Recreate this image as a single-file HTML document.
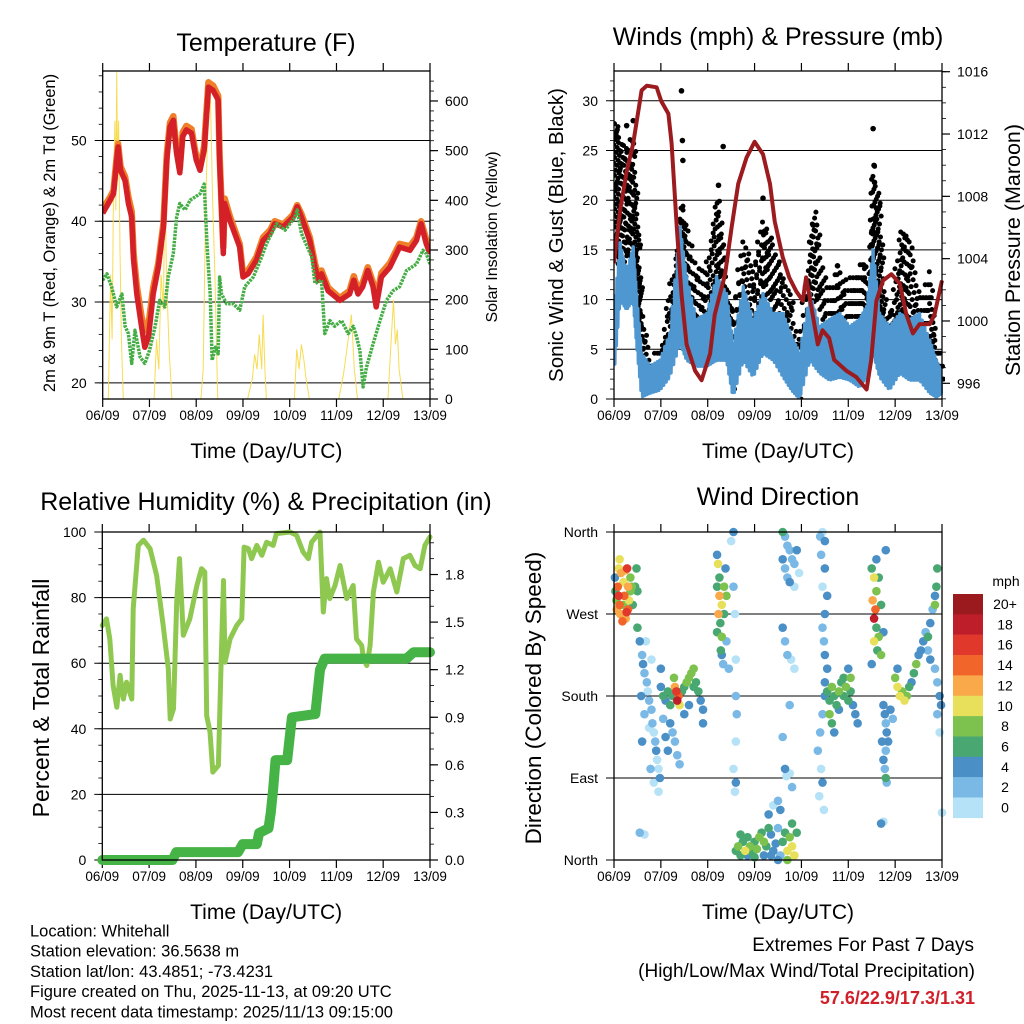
<!DOCTYPE html>
<html><head><meta charset="utf-8">
<style>
html,body{margin:0;padding:0;background:#fff;}
svg{display:block;font-family:"Liberation Sans",Arial,sans-serif;}
</style></head>
<body>
<svg id="chart" width="1024" height="1024" viewBox="0 0 1024 1024" xmlns="http://www.w3.org/2000/svg">
<rect x="0" y="0" width="1024" height="1024" fill="#fff"/>
</svg>
<script>
// ---------- Temperature panel data (days since 06/09) ----------
const tempT=[0,.16,.23,.3,.33,.38,.48,.55,.62,.66,.73,.83,.9,.98,1.08,1.19,1.3,1.37,1.44,1.51,1.58,1.65,1.71,1.79,1.9,2.0,2.08,2.17,2.26,2.36,2.47,2.5,2.58,2.61,2.72,2.93,3.0,3.11,3.29,3.43,3.58,3.68,3.86,4.07,4.16,4.25,4.43,4.54,4.61,4.68,4.82,5.07,5.28,5.37,5.46,5.56,5.67,5.78,5.85,5.96,6.14,6.35,6.57,6.71,6.81,6.92,7.0];
const tempRed=[41,42.6,43.4,47.5,49.2,46.3,45,42.2,40.5,35.2,31,27,24.4,25.7,31,34.3,39.3,47.6,51.7,52.5,48.4,46,50.5,51.3,50.9,47.6,46.3,48.8,56.6,56.2,55,47.6,36,42.2,40.1,36.8,33.1,33.5,35.2,37.6,38.5,39.7,39.3,40.5,41.8,40.5,37.6,34.3,32.7,33.5,31.4,30.2,31,32.7,31,31.9,33.9,31.9,29.4,33.1,34.3,36.8,36.4,37.6,39.7,37.2,36];
const tempOrange=[41.5,43,43.8,48,49.6,46.8,45.5,43,41.2,36,32,28.2,26.5,27.2,31.8,34.8,39.8,48.3,52.2,53,48.9,46.5,51,51.8,51.4,48,46.8,49.3,57.2,56.8,55.5,48.2,36.8,42.8,40.6,37.2,33.5,33.9,35.6,38,38.9,40,39.6,40.8,42,40.9,38,34.8,33.2,33.9,31.8,30.5,31.4,33.2,31.5,32.4,34.3,32.4,30.2,33.6,34.8,37.2,36.9,38,40,37.7,36.5];
const dewT=[0,.09,.19,.3,.41,.48,.55,.62,.69,.8,.9,1.0,1.12,1.22,1.33,1.4,1.51,1.58,1.65,1.76,1.87,2.08,2.17,2.23,2.26,2.3,2.34,2.41,2.47,2.5,2.54,2.65,2.79,2.93,3.04,3.22,3.4,3.5,3.72,3.9,4.11,4.16,4.25,4.47,4.54,4.68,4.75,4.86,4.96,5.11,5.25,5.36,5.43,5.5,5.57,5.64,5.78,5.93,6.07,6.21,6.35,6.5,6.71,6.85,6.92,7.0];
const dewV=[32.7,33.5,31.9,29.4,31,27,26.1,22.4,26.5,23.2,22.4,24,27,30.2,29.4,33.1,36,40.5,42.2,41.4,42.6,43.4,44.6,37.2,34.3,31,22.8,24.4,23.6,33.1,31,29.8,29.8,29,31.9,33.1,35.6,37.2,39.7,38.9,40.5,41.4,38.5,35.6,32.3,32.7,26.1,27.7,27,27.7,26.1,27,25.7,24,19.5,21.9,24.8,27.7,30.2,31.4,31.9,33.9,34.7,36.4,36,34.7];
const solarT=[0,.12,.17,.2,.23,.26,.28,.3,.32,.34,.37,.4,.44,1.1,1.15,1.2,1.25,1.3,1.33,1.36,1.42,1.48,2.1,2.15,2.2,2.25,2.3,2.35,2.4,2.46,3.1,3.2,3.25,3.3,3.35,3.4,3.43,3.47,3.5,4.1,4.15,4.2,4.25,4.3,4.35,4.42,5.05,5.15,5.25,5.32,5.38,5.45,6.1,6.17,6.22,6.26,6.3,6.34,6.42,7];
const solarV=[0,0,250,120,420,560,380,658,440,560,300,120,0,0,120,60,250,180,490,260,100,0,0,60,380,560,630,400,250,0,0,40,90,60,130,60,170,60,0,0,100,60,110,80,40,0,0,50,120,170,60,0,0,120,200,110,140,60,0,0];
const tempTicks=[20,30,40,50];
const solarTicks=[0,100,200,300,400,500,600];
const dayLabels=['06/09','07/09','08/09','09/09','10/09','11/09','12/09','13/09'];

// ---------- Winds panel data ----------
const presT=[0,.13,.27,.41,.59,.7,.91,1.01,1.16,1.23,1.34,1.44,1.55,1.73,1.87,2.05,2.15,2.37,2.51,2.65,2.83,3.0,3.18,3.33,3.43,3.6,3.74,3.89,4.03,4.1,4.24,4.35,4.45,4.59,4.7,4.96,5.17,5.39,5.49,5.6,5.74,5.92,6.1,6.24,6.38,6.52,6.74,6.84,7.0];
const presV=[1003.7,1007.1,1009.6,1011.4,1014.8,1015.1,1015.0,1014.1,1013.3,1011.4,1006.0,1001.7,998.5,996.8,996.2,997.9,1000.4,1003.0,1006.0,1008.8,1010.5,1011.5,1010.7,1008.8,1006.4,1004.1,1002.8,1001.9,1001.3,1002.8,1000.4,998.5,999.4,998.9,997.5,996.8,996.4,995.6,997.5,1001.3,1002.6,1003.0,1002.4,1000.4,999.2,999.8,999.8,1000.4,1002.6];
const windT=[0,.13,.27,.41,.48,.59,.77,.98,1.19,1.41,1.55,1.76,1.98,2.19,2.4,2.54,2.76,2.97,3.18,3.4,3.61,3.79,3.96,4.18,4.39,4.6,4.82,5.03,5.24,5.39,5.53,5.67,5.88,6.1,6.31,6.52,6.74,6.88,7.0];
const windHi=[8.6,15.7,12.7,15.3,10.6,4.6,3.3,3.9,6.6,17.3,12.3,8,8.6,12.3,10.6,5.6,11.3,8,10.6,8.6,8.6,6.3,4.6,10.6,7.3,8,8.6,7.3,8,9.3,15,8.6,7.3,8.6,8,8.6,5.9,3.9,2.6];
const windLo=[2.6,10,9,10,5.6,0.2,0.6,0.9,2.2,5.6,3.9,3.3,3.3,3.9,3.9,0.2,3.9,2.2,4.6,3.9,2.2,0.9,0,3.9,2.6,1.9,2.2,1.9,1.2,2.2,4.6,2.2,0.9,2.6,1.9,1.9,0.6,0.2,0.6];
const gustT=[0,.13,.27,.41,.52,.59,.77,.98,1.19,1.34,1.44,1.55,1.76,1.98,2.19,2.33,2.54,2.76,2.97,3.18,3.33,3.54,3.75,3.96,4.18,4.32,4.53,4.75,4.96,5.18,5.32,5.46,5.53,5.67,5.81,5.96,6.13,6.31,6.52,6.74,6.88,7.0];
const gustLo=[16,12,15,14,10,5,2,2,6,8,9,8,7,6,8,9,1,8,5,10,11,6,4,0,8,11,6,6,7,7,7,6,13,8,4,5,9,8,5,5,2,2];
const gustHi=[28,27,25,27,17,10,4,5,11,15,20,18,13,14,21,16,9,16,13,18,17,14,11,6,16,19,11,13,12,13,14,12,24,20,9,10,18,17,10,13,6,4];
const gustOutT=[0.27,0.41,1.44,1.46,2.33,2.23,3.18,4.25,5.53,5.55,5.56,5.6,1.47,4.77];
const gustOutV=[27.5,28,31,26,25.4,21.5,20.2,17.5,27.2,23.5,21.8,19.2,24,13.4];
const windTicks=[0,5,10,15,20,25,30];
const presTicks=[996,1000,1004,1008,1012,1016];

// ---------- RH / precipitation data ----------
const rhT=[0,.09,.16,.23,.31,.38,.45,.52,.63,.66,.77,.88,1.02,1.16,1.3,1.41,1.45,1.52,1.59,1.65,1.73,1.87,2.02,2.12,2.19,2.23,2.3,2.36,2.48,2.54,2.59,2.62,2.73,2.87,2.98,3.03,3.12,3.19,3.3,3.41,3.51,3.65,3.72,4.01,4.15,4.29,4.4,4.47,4.65,4.72,4.79,4.86,4.97,5.08,5.22,5.36,5.43,5.54,5.58,5.65,5.72,5.79,5.9,6.0,6.15,6.29,6.43,6.57,6.68,6.79,6.89,7.0];
const rhV=[71.5,73.5,67.4,53.2,46.6,56.3,49.1,54.2,49.1,76.6,95.9,97.5,94.9,86.8,71.5,58.3,43,46.1,78.6,91.9,68.5,73.5,83.7,88.8,87.8,44,39,26.8,28.8,61.3,85.2,60.3,67.4,71.5,73.5,95.4,94.9,91.9,95.9,92.9,96.9,95.9,99.5,100,99,93.9,91.9,96.9,100,75.6,85.8,79.7,83.7,89.8,79.7,83.7,67.4,65.4,61.3,59.3,65.4,81.7,90.8,84.7,88.8,81.7,91.9,92.9,89.8,88.8,95.9,98.5];
const rainT=[0,1.5,1.58,2.9,3.0,3.3,3.35,3.55,3.6,3.65,3.7,3.95,4.05,4.55,4.65,4.75,6.5,6.65,7.0];
const rainV=[0,0,0.05,0.05,0.1,0.1,0.17,0.2,0.3,0.45,0.63,0.63,0.9,0.92,1.2,1.27,1.27,1.31,1.31];
const rhTicks=[0,20,40,60,80,100];
const rainTicks=[0,0.3,0.6,0.9,1.2,1.5,1.8];

// ---------- Wind direction data ----------
const dirT=[0.02,0.03,0.05,0.08,0.1,0.12,0.15,0.1,0.15,0.2,0.25,0.28,0.3,0.32,0.35,0.38,0.3,0.25,0.22,0.4,0.45,0.5,0.48,0.18,0.13,0.06,0.2,0.35,0.12,0.27,
0.5,0.55,0.6,0.62,0.65,0.7,0.72,0.75,0.8,0.82,0.85,0.88,0.9,0.92,0.95,0.68,0.8,0.58,0.65,0.75,0.78,0.98,0.6,0.55,0.65,0.85,0.95,
1.0,1.05,1.1,1.15,1.2,1.25,1.3,1.33,1.35,1.38,1.4,1.45,1.5,1.55,1.6,1.65,1.7,1.75,1.8,1.85,1.9,1.2,1.25,1.3,1.35,1.4,1.5,1.6,1.1,1.15,1.05,1.0,1.9,1.28,1.7,
2.2,2.22,2.25,2.2,2.25,2.3,2.23,2.27,2.2,2.3,2.35,2.38,2.4,2.35,2.28,2.3,2.33,2.4,2.45,
2.5,2.55,2.55,2.58,2.6,2.6,2.62,2.6,2.55,2.6,2.58,
2.6,2.65,2.7,2.75,2.8,2.85,2.9,2.95,3.0,3.05,3.1,3.15,3.2,3.25,3.3,3.35,3.4,3.45,3.5,3.55,3.6,3.65,3.7,3.75,3.8,3.85,3.9,2.7,2.85,3.0,3.2,3.35,3.5,3.7,3.8,3.3,3.4,3.5,3.55,
3.6,3.65,3.7,3.75,3.8,3.85,3.7,3.75,3.85,3.6,3.65,3.9,3.95,3.6,3.65,3.7,3.78,3.85,3.75,3.6,3.65,3.68,3.75,3.8,
4.4,4.45,4.5,4.42,4.5,4.45,4.55,4.5,4.45,4.48,4.5,4.55,4.5,4.45,4.4,4.35,4.42,4.45,4.38,4.48,
4.5,4.55,4.6,4.65,4.7,4.75,4.8,4.85,4.9,4.95,5.0,5.05,5.1,5.15,5.2,4.6,4.65,4.7,4.9,5.0,4.8,5.05,
5.5,5.55,5.6,5.52,5.58,5.55,5.6,5.65,5.55,5.62,5.7,5.5,5.65,5.6,5.7,5.75,5.8,
5.75,5.78,5.8,5.82,5.85,5.8,5.75,5.78,5.8,5.82,5.72,5.9,5.95,5.7,5.75,
6.0,6.05,6.1,6.15,6.2,6.25,6.3,6.35,6.4,6.45,6.5,6.55,6.05,
6.6,6.65,6.7,6.75,6.8,6.85,6.88,6.9,6.7,6.75,6.85,6.9,6.95,6.98,6.9,6.95,7.0,6.85];
const dirV=[310,295,285,300,290,280,270,320,315,305,318,320,300,285,295,300,275,265,290,280,300,295,320,262,270,275,280,310,330,272,
255,240,225,215,205,195,185,175,165,150,140,130,120,110,100,240,220,180,160,145,100,90,130,30,28,85,75,
190,180,175,185,170,180,190,185,175,180,170,185,190,195,200,205,210,195,185,175,165,150,140,130,115,105,160,170,135,120,155,210,150,200,190,
335,325,310,300,290,280,270,260,250,245,300,320,290,270,230,225,215,240,210,
350,360,300,270,220,180,160,130,100,85,75,
10,15,5,20,10,25,15,8,20,12,25,30,20,15,35,28,10,18,35,5,20,30,10,25,15,5,30,28,5,3,5,5,0,0,40,50,60,65,55,
360,355,345,340,330,325,310,305,300,330,320,340,315,255,240,225,220,210,170,135,100,92,95,80,
355,360,350,335,320,300,290,270,255,240,225,210,180,160,140,120,100,85,70,55,
195,185,175,190,180,170,185,195,180,190,175,185,170,160,150,160,150,140,200,210,165,200,
320,310,295,285,275,265,255,245,240,230,225,215,310,330,280,250,340,
170,160,150,140,130,120,110,100,90,85,130,165,155,40,42,
200,190,180,185,175,180,190,195,205,215,225,230,210,
240,250,245,260,275,290,300,320,230,220,210,195,180,170,160,140,52,280];
const dirS=[5,6,8,14,16,14,12,10,12,10,13,16,12,10,8,8,14,12,14,6,6,6,6,14,13,12,8,8,10,16,
6,4,3,4,2,3,1,2,3,2,1,2,4,1,0,1,1,4,2,1,3,4,4,2,1,1,1,
5,6,4,6,7,6,12,16,18,14,10,6,6,8,8,9,8,6,6,4,4,4,2,2,2,2,4,5,4,4,3,4,4,8,7,
4,10,6,6,12,10,12,6,6,8,8,4,8,6,6,4,2,2,2,
1,4,2,1,1,2,2,1,1,4,1,
6,8,6,7,10,6,8,7,6,8,8,6,9,7,6,4,4,4,2,3,6,6,10,9,10,10,6,6,4,6,4,4,4,8,6,4,1,2,4,
6,2,3,2,2,3,2,4,1,4,2,4,1,4,2,2,1,1,2,2,4,1,1,2,
2,1,4,2,4,1,4,4,2,2,4,4,4,2,2,2,1,4,1,1,
4,6,6,8,6,6,8,6,6,8,7,6,4,4,4,8,6,4,6,5,4,8,
6,10,8,12,14,18,6,8,10,6,8,4,6,4,6,4,4,
4,4,2,4,4,2,4,2,6,2,4,4,2,4,1,
8,10,10,8,10,8,6,4,6,8,4,4,4,
4,2,6,4,2,4,6,6,2,4,2,2,4,4,2,1,1,8];
const dirTickV=[0,90,180,270,360];
const dirTickL=['North','East','South','West','North'];
const cbLabels=['20+','18','16','14','12','10','8','6','4','2','0'];
const cbColors=['#9a1a1e','#be1e2a','#e0382b','#f1642a','#f9a94a','#e8e05a','#7dc24e','#49a872','#4a8fc6','#7ab9e5','#b5e2f7'];

// ---------- helpers ----------
const NS='http://www.w3.org/2000/svg';
const svg=document.getElementById('chart');
function mk(tag,at,parent){const e=document.createElementNS(NS,tag);for(const k in at)e.setAttribute(k,at[k]);(parent||svg).appendChild(e);return e;}
function txt(s,at,parent){const e=mk('text',at,parent);e.textContent=s;return e;}
function grp(name){const g=mk('g',{});return g;}

function panel(p,key){
  p.xs=d=>p.x0+d*(p.x1-p.x0)/7;
  const g=grp(key+'-axes');
  for(let i=0;i<=7;i++){
    const x=p.xs(i);
    let t=mk('line',{x1:x,x2:x,y1:p.y1,y2:p.y1+8,stroke:'#000','stroke-width':1.2},g);
    
    
    t=mk('line',{x1:x,x2:x,y1:p.y0,y2:p.y0-8,stroke:'#000','stroke-width':1.2},g);
    
    
    const l=txt(dayLabels[i],{x:x,y:p.y1+21,'font-size':13.5,'text-anchor':'middle'},g);
    
    
  }
  const xt=txt('Time (Day/UTC)',{x:(p.x0+p.x1)/2,y:p.y1+59,'font-size':21,'text-anchor':'middle'},g);
  
  
  return g;
}
function frame(p,key){
  const r=mk('rect',{x:p.x0,y:p.y0,width:p.x1-p.x0,height:p.y1-p.y0,fill:'none',stroke:'#000','stroke-width':1.3});
  
  
}
function leftAxis(p,key,vals,labels,ys,minor){
  const g=grp(key+'-left-axis');
  vals.forEach((v,i)=>{
    const y=ys(v);
    const gl=mk('line',{x1:p.x0-8,x2:p.x1,y1:y,y2:y,stroke:'#000','stroke-width':1},g);
    
    
    const l=txt(labels[i],{x:p.x0-16,y:y+5,'font-size':14,'text-anchor':'end'},g);
    
    
  });
  (minor||[]).forEach(v=>{
    const y=ys(v);
    const m=mk('line',{x1:p.x0-4,x2:p.x0,y1:y,y2:y,stroke:'#000','stroke-width':0.8},g);
    
    
  });
}
function rightAxis(p,key,vals,labels,ys,minor){
  const g=grp(key+'-right-axis');
  vals.forEach((v,i)=>{
    const y=ys(v);
    const t=mk('line',{x1:p.x1,x2:p.x1+8,y1:y,y2:y,stroke:'#000','stroke-width':1.2},g);
    
    
    const l=txt(labels[i],{x:p.x1+15,y:y+5,'font-size':14},g);
    
    
  });
  (minor||[]).forEach(v=>{
    const y=ys(v);
    const m=mk('line',{x1:p.x1,x2:p.x1+4,y1:y,y2:y,stroke:'#000','stroke-width':0.8},g);
    
    
  });
}
function vtitle(s,x,y,size,name){
  const t=txt(s,{x:x,y:y,'font-size':size,'text-anchor':'middle',transform:'rotate(-90 '+x+' '+y+')'});
  
  
}
function title(s,x,y,name){
  const t=txt(s,{x:x,y:y,'font-size':25,'text-anchor':'middle'});
  
  
}
function pts(p,T,V,ys){return T.map((t,i)=>p.xs(t).toFixed(1)+','+ys(V[i]).toFixed(1)).join(' ');}
function range(a,b,s){const r=[];for(let v=a;v<=b+1e-9;v+=s)r.push(+v.toFixed(3));return r;}

// ================= Panel 1: Temperature =================
const P1={x0:102.7,x1:430,y0:71,y1:399};
const yT=v=>399-(v-18.0)*8.08;
const yS=v=>399-v*0.4967;
panel(P1,'temp');
leftAxis(P1,'temp',tempTicks,tempTicks.map(String),yT,range(20,58,2));
rightAxis(P1,'temp',solarTicks,solarTicks.map(String),yS,range(0,640,20));
title('Temperature (F)',266,51,'temperature-title');
vtitle('2m & 9m T (Red, Orange) & 2m Td (Green)',55,233,16.5,'temperature-y-axis-title');
vtitle('Solar Insolation (Yellow)',497,237,16,'solar-y-axis-title');
{
  const cp=mk('clipPath',{id:'c1'});mk('rect',{x:P1.x0,y:P1.y0,width:P1.x1-P1.x0,height:P1.y1-P1.y0},cp);
  const g=mk('g',{'clip-path':'url(#c1)'});
  
  
  let e=mk('polyline',{points:pts(P1,solarT,solarV,yS),fill:'none',stroke:'#f7dc52','stroke-width':1},g);
  
  
  e=mk('polyline',{points:pts(P1,tempT,tempOrange,yT),fill:'none',stroke:'#f07f2a','stroke-width':6.5,'stroke-linejoin':'round'},g);
  
  
  e=mk('polyline',{points:pts(P1,tempT,tempRed,yT),fill:'none',stroke:'#d42128','stroke-width':5.5,'stroke-linejoin':'round'},g);
  
  
  e=mk('polyline',{points:pts(P1,dewT,dewV,yT),fill:'none',stroke:'#45ad45','stroke-width':3.5,'stroke-dasharray':'2.5 1','stroke-linejoin':'round'},g);
  
  
}
frame(P1,'temp');

// ================= Panel 2: Winds & Pressure =================
const P2={x0:614,x1:942,y0:71,y1:399};
const yW=v=>399-v*9.94;
const yP=v=>383.3-(v-996)*15.58;
panel(P2,'winds');
leftAxis(P2,'winds',windTicks,windTicks.map(String),yW,range(0,32,1));
rightAxis(P2,'winds',presTicks,presTicks.map(String),yP,range(995,1016,1));
title('Winds (mph) & Pressure (mb)',778,45,'winds-title');
vtitle('Sonic Wind & Gust (Blue, Black)',563,235,20.5,'wind-y-axis-title');
vtitle('Station Pressure (Maroon)',1020,250,21.5,'pressure-y-axis-title');
{
  const cp=mk('clipPath',{id:'c2'});mk('rect',{x:P2.x0,y:P2.y0-4,width:P2.x1-P2.x0+3,height:P2.y1-P2.y0+4},cp);
  const g=mk('g',{'clip-path':'url(#c2)'});
  
  
  const gg=mk('g',{fill:'#000'},g);
  
  
  const SUB=5;
  for(let i=0;i<gustT.length;i++){
    const n=(i<gustT.length-1)?SUB:1;
    for(let k=0;k<n;k++){
      const f=k/SUB;
      const j=Math.min(i+1,gustT.length-1);
      const t=gustT[i]+(gustT[j]-gustT[i])*f;
      const lo=gustLo[i]+(gustLo[j]-gustLo[i])*f;
      const hi=gustHi[i]+(gustHi[j]-gustHi[i])*f;
      let c0=0;
      for(let v=lo;v<=hi;v+=1.3){
        c0++;
        const c=mk('circle',{cx:P2.xs(t)+((c0*3+k)%4-1.5),cy:yW(v),r:2.5},gg);
        
        
      }
    }
  }
  gustOutT.forEach((t,i)=>{
    const c=mk('circle',{cx:P2.xs(t),cy:yW(gustOutV[i]),r:2.8},gg);
    
    
  });
  // zigzag between hi and lo envelopes
  const zz=[];
  const ZS=8;
  for(let i=0;i<windT.length-1;i++){
    for(let k=0;k<ZS;k++){
      const f=k/ZS;
      const t=windT[i]+(windT[i+1]-windT[i])*f;
      const v=(k%2===0)?windHi[i]+(windHi[i+1]-windHi[i])*f:windLo[i]+(windLo[i+1]-windLo[i])*f;
      zz.push(P2.xs(t).toFixed(1)+','+yW(v).toFixed(1));
    }
  }
  zz.push(P2.xs(windT[windT.length-1]).toFixed(1)+','+yW(windLo[windLo.length-1]).toFixed(1));
  let e=mk('polyline',{points:zz.join(' '),fill:'none',stroke:'#4f97d0','stroke-width':3.5,'stroke-linejoin':'round'},g);
  
  
  e=mk('polyline',{points:pts(P2,presT,presV,yP),fill:'none',stroke:'#9b1b1e','stroke-width':4,'stroke-linejoin':'round'},g);
  
  
}
frame(P2,'winds');

// ================= Panel 3: RH & Precip =================
const P3={x0:102.3,x1:430,y0:532,y1:860};
const yRH=v=>860-v*3.28;
const yR=v=>860-v*158.6;
panel(P3,'rh');
leftAxis(P3,'rh',rhTicks,rhTicks.map(String),yRH,range(0,100,5));
rightAxis(P3,'rh',rainTicks,rainTicks.map(v=>v.toFixed(1)),yR,range(0,2.0,0.1));
title('Relative Humidity (%) & Precipitation (in)',266,510,'rh-precip-title');
vtitle('Percent & Total Rainfall',49,698,23,'rh-y-axis-title');
{
  const cp=mk('clipPath',{id:'c3'});mk('rect',{x:P3.x0-8,y:P3.y0-6,width:P3.x1-P3.x0+16,height:P3.y1-P3.y0+12},cp);
  const g=mk('g',{'clip-path':'url(#c3)'});
  
  
  let e=mk('polyline',{points:pts(P3,rhT,rhV,yRH),fill:'none',stroke:'#8fc850','stroke-width':5,'stroke-linejoin':'round','stroke-linecap':'round'},g);
  
  
  e=mk('polyline',{points:pts(P3,rainT,rainV,yR),fill:'none',stroke:'#46b346','stroke-width':10,'stroke-linejoin':'round','stroke-linecap':'round'},g);
  
  
}
frame(P3,'rh');

// ================= Panel 4: Wind Direction =================
const P4={x0:614,x1:942,y0:532,y1:860};
const yD=v=>860-v*328/360;
panel(P4,'dir');
leftAxis(P4,'dir',dirTickV,dirTickL,yD,[]);
title('Wind Direction',778,505,'wind-direction-title');
vtitle('Direction (Colored By Speed)',541,698,22.5,'direction-y-axis-title');
{
  const g=grp('wind-direction-points');
  const idx=dirT.map((t,i)=>i).sort((a,b)=>dirS[a]-dirS[b]);
  idx.forEach(i=>{
    const bin=Math.min(10,Math.floor(dirS[i]/2));
    const c=mk('circle',{cx:P4.xs(dirT[i]),cy:yD(dirV[i]),r:4.3,fill:cbColors[10-bin]},g);
    
    
  });
}
frame(P4,'dir');
{
  const g=grp('speed-colorbar');
  const h=txt('mph',{x:1006,y:586,'font-size':14,'text-anchor':'middle'},g);
  
  
  cbLabels.forEach((lab,i)=>{
    const y=594+i*20.35;
    const r=mk('rect',{x:953,y:y,width:30,height:20.6,fill:cbColors[i]},g);
    
    
    const t=txt(lab,{x:1005,y:y+15,'font-size':14,'text-anchor':'middle'},g);
    
    
  });
}

// ================= Footer text =================
{
  const g=grp('station-info');
  const lines=['Location: Whitehall','Station elevation: 36.5638 m','Station lat/lon: 43.4851; -73.4231','Figure created on Thu, 2025-11-13, at 09:20 UTC','Most recent data timestamp: 2025/11/13 09:15:00'];
  lines.forEach((s,i)=>{
    const t=txt(s,{x:30,y:936.5+i*20.2,'font-size':16.5},g);
    
    
  });
  const e1=txt('Extremes For Past 7 Days',{x:974,y:951,'font-size':19,'text-anchor':'end'});
  
  
  const e2=txt('(High/Low/Max Wind/Total Precipitation)',{x:975,y:977,'font-size':19,'text-anchor':'end'});
  
  
  const e3=txt('57.6/22.9/17.3/1.31',{x:975,y:1004,'font-size':18,'font-weight':'bold',fill:'#d0202a','text-anchor':'end'});
  
  
}
</script>
</body></html>
